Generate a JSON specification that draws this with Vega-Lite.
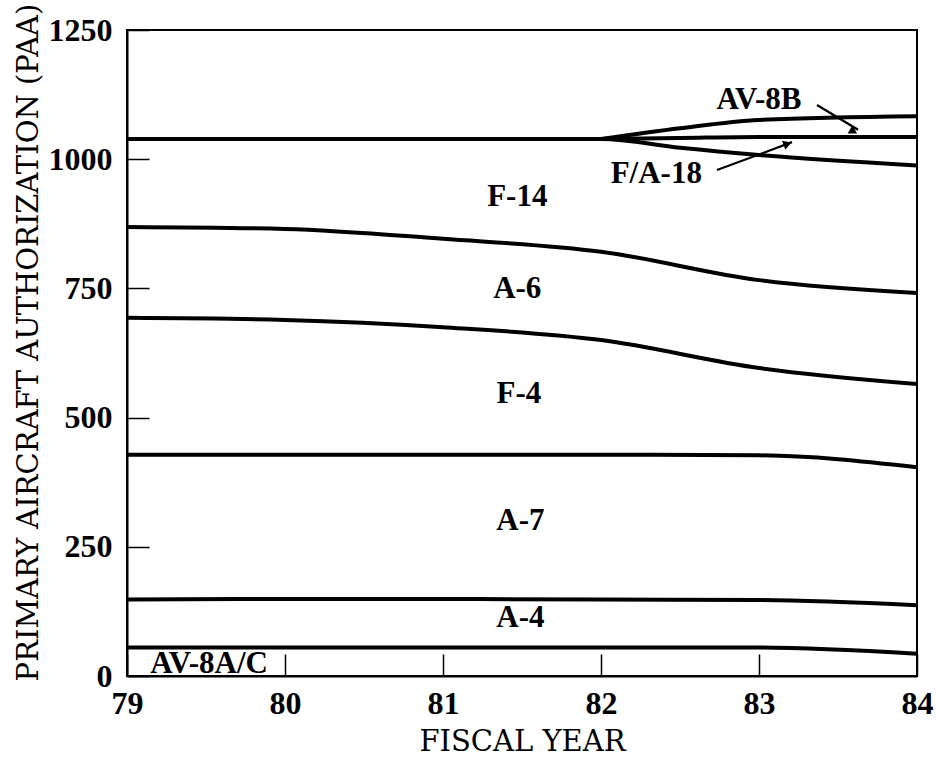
{
  "$schema": "https://vega.github.io/schema/vega-lite/v6.json",
  "width": 790,
  "height": 646,
  "autosize": {"type": "none"},
  "padding": {"left": 127, "top": 30, "right": 19, "bottom": 86},
  "background": "white",
  "config": {
    "view": {"stroke": "black", "strokeWidth": 2},
    "axis": {
      "domainColor": "black",
      "domainWidth": 2,
      "tickColor": "black",
      "tickWidth": 1.5,
      "tickSize": -22,
      "grid": false,
      "labelFont": "Liberation Serif",
      "labelFontWeight": "bold",
      "labelFontSize": 32,
      "labelColor": "black",
      "titleFont": "DejaVu Serif",
      "titleFontWeight": "normal",
      "titleFontSize": 29,
      "titleColor": "black",
      "labelFlush": false,
      "labelOverlap": false
    }
  },
  "datasets": {
    "lines": [
      {"series": "AV-8A/C", "year": 79, "value": 55},
      {"series": "AV-8A/C", "year": 80, "value": 55},
      {"series": "AV-8A/C", "year": 81, "value": 55},
      {"series": "AV-8A/C", "year": 82, "value": 55},
      {"series": "AV-8A/C", "year": 83, "value": 55},
      {"series": "AV-8A/C", "year": 84, "value": 43},
      {"series": "A-4", "year": 79, "value": 148},
      {"series": "A-4", "year": 80, "value": 149},
      {"series": "A-4", "year": 81, "value": 149},
      {"series": "A-4", "year": 82, "value": 148},
      {"series": "A-4", "year": 83, "value": 147},
      {"series": "A-4", "year": 84, "value": 137},
      {"series": "A-7", "year": 79, "value": 428},
      {"series": "A-7", "year": 80, "value": 428},
      {"series": "A-7", "year": 81, "value": 428},
      {"series": "A-7", "year": 82, "value": 428},
      {"series": "A-7", "year": 83, "value": 427},
      {"series": "A-7", "year": 84, "value": 404},
      {"series": "F-4", "year": 79, "value": 693},
      {"series": "F-4", "year": 80, "value": 689},
      {"series": "F-4", "year": 81, "value": 675},
      {"series": "F-4", "year": 82, "value": 650},
      {"series": "F-4", "year": 83, "value": 596},
      {"series": "F-4", "year": 84, "value": 565},
      {"series": "A-6", "year": 79, "value": 869},
      {"series": "A-6", "year": 80, "value": 865},
      {"series": "A-6", "year": 81, "value": 846},
      {"series": "A-6", "year": 82, "value": 821},
      {"series": "A-6", "year": 83, "value": 766},
      {"series": "A-6", "year": 84, "value": 741},
      {"series": "F-14", "year": 79, "value": 1039},
      {"series": "F-14", "year": 80, "value": 1039},
      {"series": "F-14", "year": 81, "value": 1039},
      {"series": "F-14", "year": 82, "value": 1039},
      {"series": "F-14", "year": 82.5, "value": 1022},
      {"series": "F-14", "year": 83, "value": 1008},
      {"series": "F-14", "year": 84, "value": 988},
      {"series": "F/A-18", "year": 82, "value": 1039},
      {"series": "F/A-18", "year": 82.5, "value": 1041},
      {"series": "F/A-18", "year": 83, "value": 1043},
      {"series": "F/A-18", "year": 84, "value": 1043},
      {"series": "AV-8B", "year": 82, "value": 1039},
      {"series": "AV-8B", "year": 82.5, "value": 1060},
      {"series": "AV-8B", "year": 83, "value": 1076},
      {"series": "AV-8B", "year": 84, "value": 1083}
    ],
    "labels": [
      {"label": "F-14", "year": 81.47, "value": 927},
      {"label": "A-6", "year": 81.47, "value": 749},
      {"label": "F-4", "year": 81.48, "value": 546},
      {"label": "A-7", "year": 81.49, "value": 300},
      {"label": "A-4", "year": 81.49, "value": 112},
      {"label": "AV-8A/C", "year": 79.52, "value": 23},
      {"label": "AV-8B", "year": 83.0, "value": 1114},
      {"label": "F/A-18", "year": 82.35, "value": 971}
    ],
    "arrows": [
      {"label": "AV-8B", "year": 83.367, "value": 1105, "year2": 83.627, "value2": 1057},
      {"label": "F/A-18", "year": 82.734, "value": 979, "year2": 83.209, "value2": 1033}
    ]
  },
  "layer": [
    {
      "data": {"name": "lines"},
      "mark": {"type": "line", "color": "black", "strokeWidth": 4, "interpolate": "monotone"},
      "encoding": {
        "x": {
          "field": "year", "type": "quantitative",
          "scale": {"domain": [79, 84], "nice": false, "zero": false},
          "axis": {"title": "FISCAL YEAR", "values": [79, 80, 81, 82, 83, 84], "format": "d",
                   "labelPadding": 34, "labelBaseline": "top", "titleY": 74, "titleBaseline": "alphabetic"}
        },
        "y": {
          "field": "value", "type": "quantitative",
          "scale": {"domain": [0, 1250], "nice": false},
          "axis": {"title": "PRIMARY AIRCRAFT AUTHORIZATION (PAA)", "values": [0, 250, 500, 750, 1000, 1250], "format": "d",
                   "labelPadding": 37, "titleX": -90, "titleY": 312, "titleBaseline": "alphabetic"}
        },
        "detail": {"field": "series"}
      }
    },
    {
      "data": {"name": "labels"},
      "mark": {"type": "text", "font": "Liberation Serif", "fontWeight": "bold", "fontSize": 31, "color": "black", "align": "center", "baseline": "middle"},
      "encoding": {
        "x": {"field": "year", "type": "quantitative"},
        "y": {"field": "value", "type": "quantitative"},
        "text": {"field": "label"}
      }
    },
    {
      "data": {"name": "arrows"},
      "mark": {"type": "rule", "color": "black", "strokeWidth": 2.2},
      "encoding": {
        "x": {"field": "year", "type": "quantitative"},
        "y": {"field": "value", "type": "quantitative"},
        "x2": {"field": "year2"},
        "y2": {"field": "value2"}
      }
    },
    {
      "data": {"name": "arrows"},
      "mark": {"type": "point", "shape": "triangle-up", "filled": true, "color": "black", "size": 90, "opacity": 1, "strokeWidth": 0},
      "encoding": {
        "x": {"field": "year2", "type": "quantitative"},
        "y": {"field": "value2", "type": "quantitative"},
        "angle": {"condition": {"test": "datum.label === 'AV-8B'", "value": 121}, "value": 69.5},
        "xOffset": {"condition": {"test": "datum.label === 'AV-8B'", "value": -4}, "value": -4.5},
        "yOffset": {"condition": {"test": "datum.label === 'AV-8B'", "value": -2.5}, "value": 1.7}
      }
    }
  ]
}
